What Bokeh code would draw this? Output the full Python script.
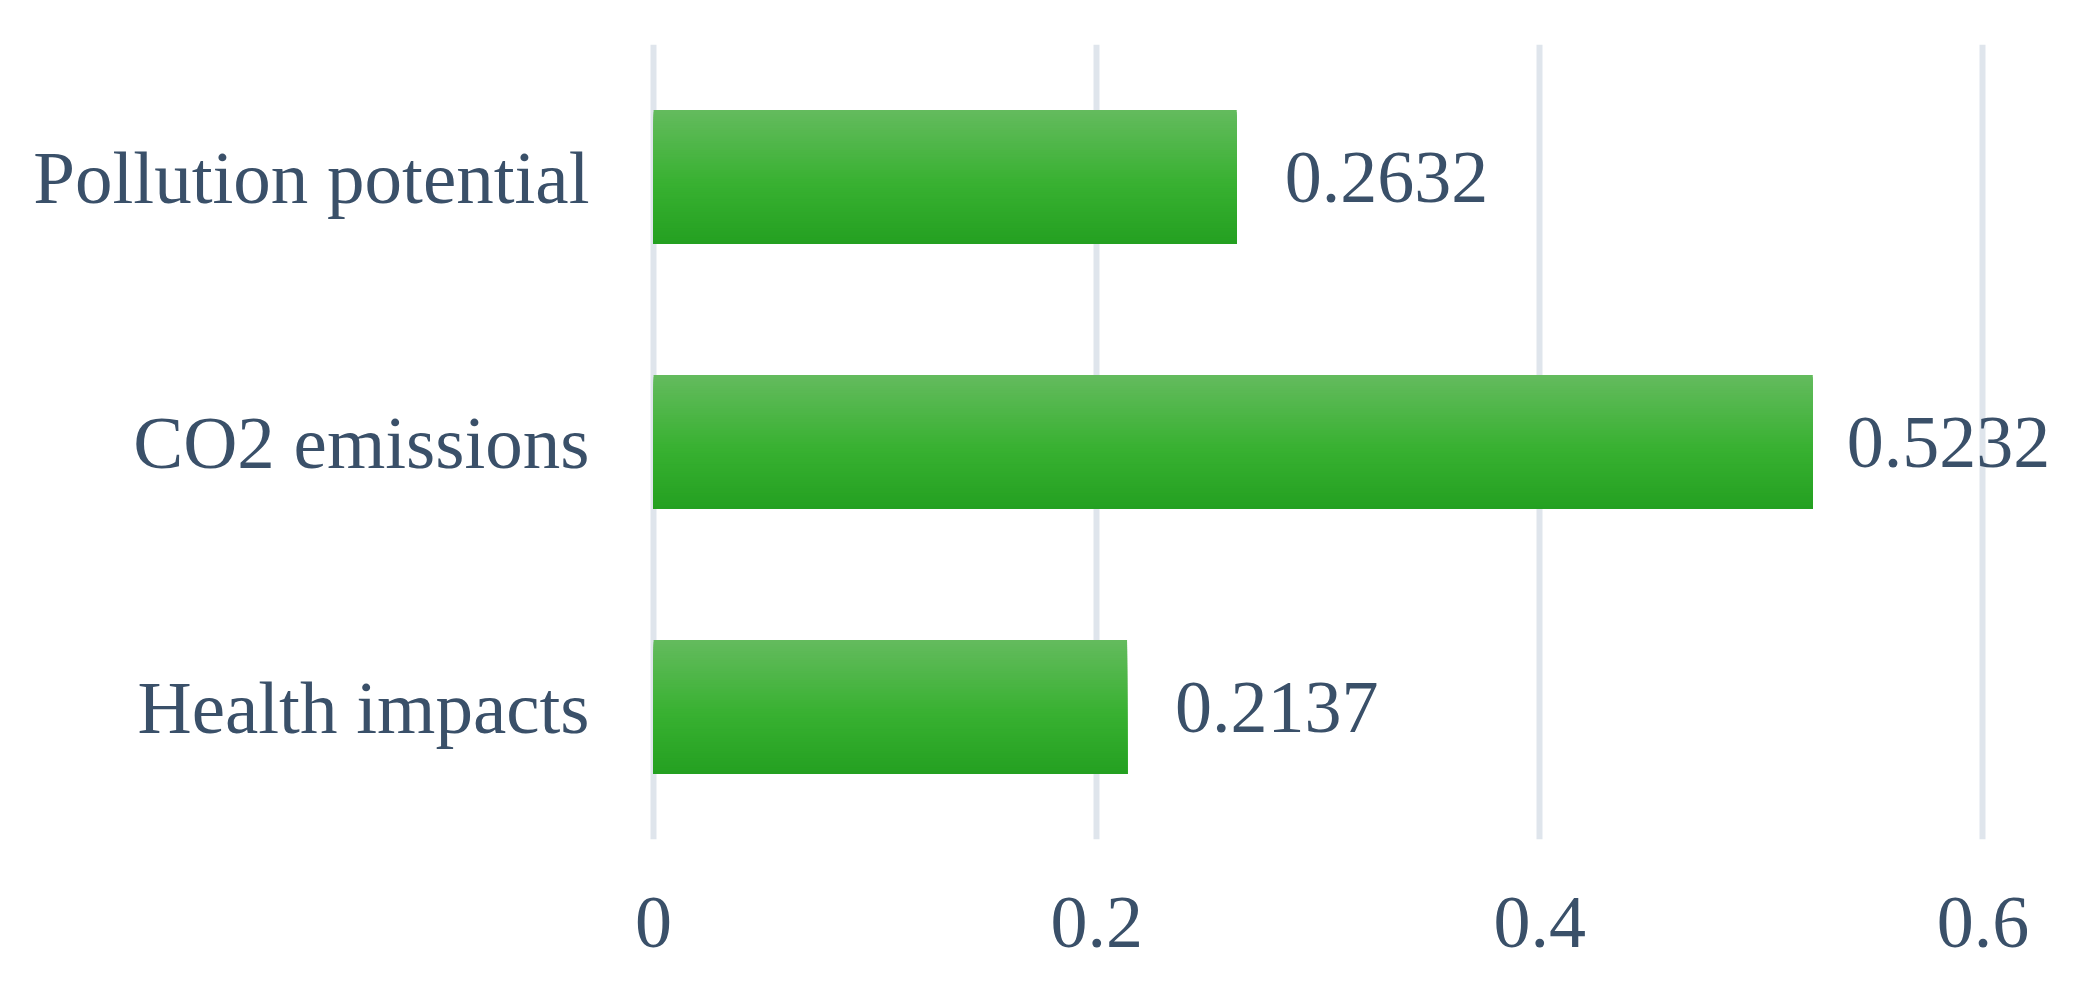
from bokeh.plotting import figure
from bokeh.models import Range1d, FixedTicker, ColumnDataSource
from bokeh.core.properties import value
from bokeh.embed import file_html
from bokeh.resources import INLINE

# ---- data ----
categories = ["Pollution potential", "CO2 emissions", "Health impacts"]
values = [0.2632, 0.5232, 0.2137]
value_labels = ["0.2632", "0.5232", "0.2137"]
x_ticks = [0, 0.2, 0.4, 0.6]
x_tick_labels = ["0", "0.2", "0.4", "0.6"]

# ---- style ----
FONT = "Liberation Serif"
TEXT_COLOR = "#3a5069"
GRID_COLOR = "#dfe5ec"
BAR_H = 0.505
label_offsets = [48, 34, 48]  # the long bar's label is pulled in to fit the plot
stops = [(0.0, (100, 187, 94)), (0.55, (56, 177, 49)), (1.0, (36, 160, 33))]

n = len(categories)
centers = [n - 1 - i + 0.5 for i in range(n)]

p = figure(width=2070, height=979, output_backend="svg", toolbar_location=None,
           x_range=Range1d(-0.005, 0.635), y_range=Range1d(0, n),
           min_border_left=642, min_border_right=10, min_border_top=44,
           min_border_bottom=140)
p.outline_line_color = None
p.background_fill_color = "white"
p.border_fill_color = "white"


def grad_color(t):
    for (t0, c0), (t1, c1) in zip(stops[:-1], stops[1:]):
        if t0 <= t <= t1:
            f = (t - t0) / (t1 - t0)
            return "#%02x%02x%02x" % tuple(int(round(a + (b - a) * f)) for a, b in zip(c0, c1))
    return "#%02x%02x%02x" % stops[-1][1]


# gradient bars: layered strips, each reaching from its own top down to the bar bottom
N = 60
tops, bottoms, rights, cols = [], [], [], []
for c, v in zip(centers, values):
    top = c + BAR_H / 2
    bottom = c - BAR_H / 2
    for k in range(N):
        tops.append(top - BAR_H * k / N)
        bottoms.append(bottom)
        rights.append(v)
        cols.append(grad_color((k + 0.5) / N))
p.quad(left=0, right=rights, top=tops, bottom=bottoms, fill_color=cols, line_color=None)

# value labels
src = ColumnDataSource(dict(x=values, y=centers, t=value_labels, xo=label_offsets))
p.text(x="x", y="y", text="t", x_offset="xo", source=src, text_baseline="middle",
       text_align="left", text_font=value(FONT), text_font_size="74px",
       text_color=TEXT_COLOR)

# grid
p.ygrid.visible = False
p.xgrid.ticker = FixedTicker(ticks=x_ticks)
p.xgrid.grid_line_color = GRID_COLOR
p.xgrid.grid_line_width = 6
p.xgrid.level = "underlay"

# axes
xa = p.xaxis[0]
xa.ticker = FixedTicker(ticks=x_ticks)
xa.major_label_overrides = {t: l for t, l in zip(x_ticks, x_tick_labels)}
ya = p.yaxis[0]
ya.ticker = FixedTicker(ticks=centers)
ya.major_label_overrides = {c: l for c, l in zip(centers, categories)}
for ax, standoff, size in ((xa, 52, "74px"), (ya, 47, "75px")):
    ax.axis_line_color = None
    ax.major_tick_line_color = None
    ax.minor_tick_line_color = None
    ax.major_label_text_font = FONT
    ax.major_label_text_font_size = size
    ax.major_label_text_color = TEXT_COLOR
    ax.major_label_standoff = standoff

open("out.html", "w").write(file_html(p, INLINE))
